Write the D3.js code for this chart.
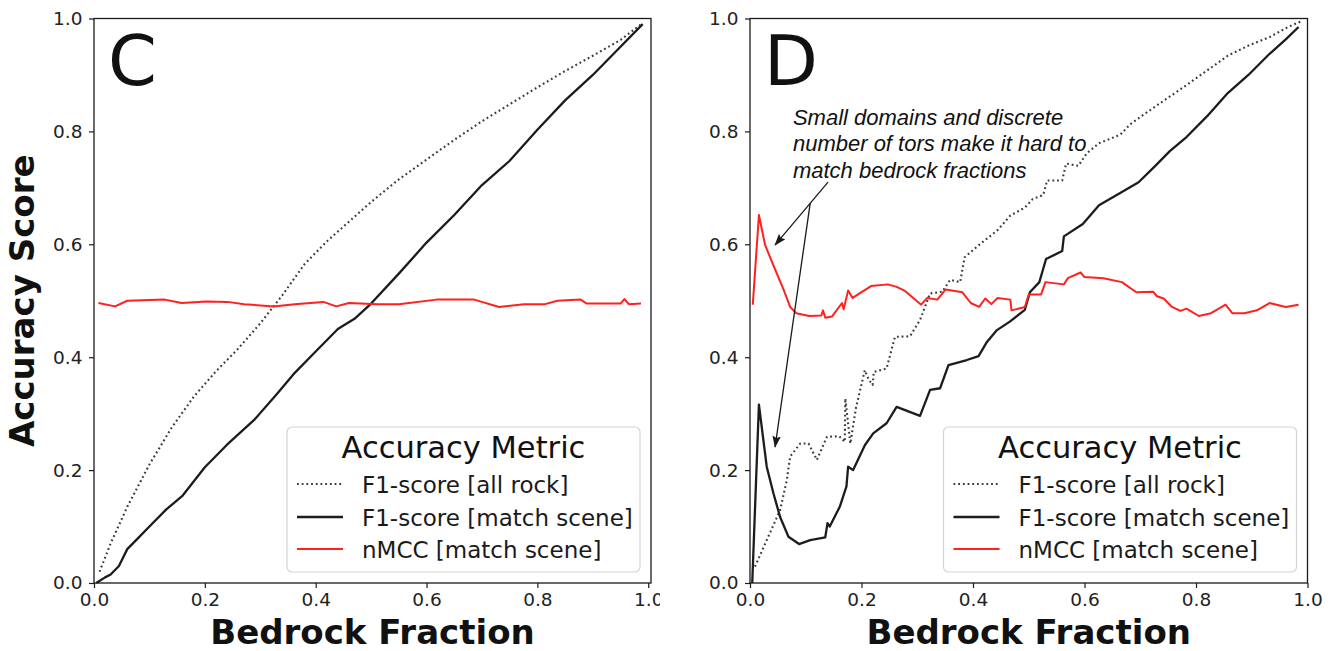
<!DOCTYPE html>
<html>
<head>
<meta charset="utf-8">
<script src="https://cdn.jsdelivr.net/npm/d3@7"></script>
<style>
  body { margin: 0; background: #fff; }
  svg { display: block; }
</style>
</head>
<body>
<svg id="fig" width="1338" height="651"></svg>
<script>
// ---- Panel C: accuracy vs. bedrock fraction (large domains) ----
const cAllRock = [[0.01,0.02],[0.03,0.07],[0.06,0.135],[0.10,0.21],[0.14,0.275],[0.18,0.33],[0.22,0.375],
  [0.26,0.415],[0.30,0.46],[0.34,0.51],[0.38,0.565],[0.42,0.605],[0.46,0.64],[0.50,0.675],[0.55,0.715],
  [0.60,0.75],[0.65,0.785],[0.70,0.818],[0.75,0.848],[0.80,0.878],[0.85,0.907],[0.90,0.934],[0.95,0.962],[0.99,0.992]];
const cScene = [[0.004,0.0],[0.02,0.01],[0.03,0.015],[0.045,0.03],[0.06,0.06],[0.08,0.08],[0.10,0.10],
  [0.13,0.13],[0.16,0.155],[0.20,0.205],[0.24,0.245],[0.29,0.29],[0.33,0.335],[0.36,0.37],[0.40,0.41],
  [0.44,0.45],[0.47,0.468],[0.50,0.495],[0.55,0.548],[0.60,0.603],[0.65,0.652],[0.70,0.705],[0.75,0.748],
  [0.80,0.803],[0.85,0.855],[0.90,0.90],[0.95,0.95],[0.99,0.99]];
const cMcc = [[0.008,0.496],[0.038,0.49],[0.06,0.50],[0.128,0.502],[0.158,0.496],[0.203,0.4985],[0.241,0.498],
  [0.271,0.494],[0.324,0.49],[0.362,0.494],[0.414,0.498],[0.437,0.49],[0.46,0.496],[0.512,0.494],[0.55,0.494],
  [0.618,0.502],[0.686,0.502],[0.731,0.489],[0.776,0.494],[0.814,0.494],[0.836,0.50],[0.878,0.502],
  [0.889,0.495],[0.95,0.495],[0.957,0.503],[0.965,0.494],[0.987,0.495]];

// ---- Panel D: accuracy vs. bedrock fraction (small domains) ----
const dAllRock = [[0.009,0.029],[0.03,0.076],[0.054,0.129],[0.066,0.182],[0.072,0.224],[0.09,0.247],
  [0.105,0.247],[0.12,0.218],[0.138,0.259],[0.16,0.26],[0.17,0.25],[0.171,0.327],[0.18,0.247],[0.19,0.31],
  [0.206,0.377],[0.213,0.36],[0.22,0.351],[0.222,0.374],[0.245,0.38],[0.26,0.436],[0.287,0.437],[0.305,0.466],
  [0.323,0.513],[0.345,0.516],[0.359,0.537],[0.377,0.533],[0.385,0.577],[0.411,0.599],[0.444,0.625],
  [0.467,0.651],[0.493,0.665],[0.507,0.68],[0.526,0.6875],[0.533,0.713],[0.56,0.713],[0.567,0.743],
  [0.589,0.739],[0.604,0.761],[0.626,0.779],[0.664,0.794],[0.682,0.8125],[0.708,0.831],[0.746,0.857],
  [0.783,0.882],[0.82,0.908],[0.857,0.934],[0.894,0.952],[0.932,0.967],[0.965,0.985],[0.991,0.996]];
const dScene = [[0.004,0.0],[0.016,0.316],[0.03,0.206],[0.042,0.159],[0.054,0.117],[0.069,0.082],
  [0.088,0.069],[0.108,0.076],[0.135,0.081],[0.139,0.106],[0.143,0.10],[0.161,0.135],[0.173,0.171],
  [0.176,0.206],[0.185,0.20],[0.206,0.244],[0.221,0.265],[0.245,0.283],[0.263,0.312],[0.305,0.296],
  [0.323,0.342],[0.341,0.345],[0.356,0.386],[0.389,0.395],[0.41,0.402],[0.425,0.427],[0.443,0.448],
  [0.466,0.463],[0.493,0.484],[0.502,0.515],[0.519,0.533],[0.531,0.574],[0.56,0.588],[0.563,0.614],
  [0.597,0.636],[0.626,0.669],[0.664,0.691],[0.697,0.71],[0.727,0.739],[0.753,0.765],[0.783,0.79],
  [0.82,0.827],[0.857,0.868],[0.894,0.90],[0.932,0.9375],[0.961,0.963],[0.984,0.985]];
const dMcc = [[0.005,0.493],[0.016,0.652],[0.027,0.599],[0.042,0.5625],[0.061,0.518],[0.072,0.489],
  [0.083,0.478],[0.106,0.473],[0.128,0.474],[0.131,0.483],[0.135,0.47],[0.147,0.472],[0.165,0.496],
  [0.168,0.485],[0.176,0.518],[0.184,0.505],[0.217,0.526],[0.247,0.529],[0.262,0.525],[0.277,0.518],
  [0.307,0.493],[0.318,0.505],[0.336,0.502],[0.351,0.52],[0.381,0.515],[0.396,0.496],[0.411,0.489],
  [0.422,0.504],[0.433,0.494],[0.444,0.505],[0.467,0.502],[0.469,0.483],[0.493,0.489],[0.50,0.511],
  [0.522,0.511],[0.53,0.533],[0.563,0.529],[0.57,0.54],[0.593,0.55],[0.60,0.542],[0.634,0.54],
  [0.667,0.533],[0.693,0.515],[0.723,0.516],[0.73,0.508],[0.742,0.504],[0.757,0.489],[0.772,0.482],
  [0.783,0.486],[0.805,0.473],[0.827,0.478],[0.853,0.493],[0.865,0.478],[0.887,0.478],[0.909,0.483],
  [0.932,0.496],[0.961,0.489],[0.984,0.493]];

// ---- Shared labels ----
const tickValues = [0, 0.2, 0.4, 0.6, 0.8, 1.0];
const legendTitle = "Accuracy Metric";
const legendLabels = ["F1-score [all rock]", "F1-score [match scene]", "nMCC [match scene]"];
const xTitle = "Bedrock Fraction";
const yTitle = "Accuracy Score";
const annotLines = ["Small domains and discrete", "number of tors make it hard to", "match bedrock fractions"];

// ---- Drawing ----
const W = 1338, H = 651;
const svg = d3.select("#fig");
svg.append("rect").attr("width", W).attr("height", H).attr("fill", "#fff");

const FONT = "'DejaVu Sans', sans-serif";
const INK = "#1a1a1a";
const seriesStyle = [
  { stroke: "#3a3a3a", width: 2.1, dash: "1.8,2.9" },
  { stroke: "#1c1c1c", width: 2.3, dash: null },
  { stroke: "#ff2020", width: 2.0, dash: null }
];

const yTop = 18.5, yBot = 583;

const defs = svg.append("defs");
defs.append("clipPath").attr("id", "clipC")
  .append("rect").attr("x", 0).attr("y", 0).attr("width", 660).attr("height", H);
defs.append("marker").attr("id", "arrowHead")
  .attr("markerUnits", "userSpaceOnUse")
  .attr("viewBox", "0 0 12 10").attr("markerWidth", 12).attr("markerHeight", 10)
  .attr("refX", 11).attr("refY", 5).attr("orient", "auto")
  .append("path").attr("d", "M0,0.8 L12,5 L0,9.2 L2,5 Z").attr("fill", INK);

const panels = [
  { letter: "C", x0: 94, x1: 651, xMax: 1.005, data: [cAllRock, cScene, cMcc], yLabel: true, clip: "url(#clipC)" },
  { letter: "D", x0: 750, x1: 1307.5, xMax: 1.0, data: [dAllRock, dScene, dMcc], yLabel: false, annot: true }
];

panels.forEach(p => {
  const g = svg.append("g");
  if (p.clip) g.attr("clip-path", p.clip);

  const x = d3.scaleLinear().domain([0, p.xMax]).range([p.x0, p.x1]);
  const y = d3.scaleLinear().domain([0, 1]).range([yBot, yTop]);

  // series lines
  const line = d3.line().x(d => x(d[0])).y(d => y(d[1]));
  p.data.forEach((s, i) => {
    const st = seriesStyle[i];
    g.append("path").datum(s)
      .attr("d", line)
      .attr("fill", "none")
      .attr("stroke", st.stroke)
      .attr("stroke-width", st.width)
      .attr("stroke-linejoin", "round")
      .attr("stroke-dasharray", st.dash);
  });

  // axes
  const xAxis = d3.axisBottom(x).tickValues(tickValues).tickFormat(d3.format(".1f"))
    .tickSize(5).tickPadding(5).tickSizeOuter(0);
  const yAxis = d3.axisLeft(y).tickValues(tickValues).tickFormat(d3.format(".1f"))
    .tickSize(5).tickPadding(6.5).tickSizeOuter(0);

  const gx = g.append("g").attr("transform", `translate(0,${yBot})`).call(xAxis);
  const gy = g.append("g").attr("transform", `translate(${p.x0},0)`).call(yAxis);
  [gx, gy].forEach(a => {
    a.select(".domain").remove();
    a.selectAll(".tick line").attr("stroke", INK).attr("stroke-width", 1.2);
    a.selectAll(".tick text").attr("fill", "#222").style("font-family", FONT).style("font-size", "18.5px");
  });

  // frame
  g.append("rect")
    .attr("x", p.x0).attr("y", yTop)
    .attr("width", p.x1 - p.x0).attr("height", yBot - yTop)
    .attr("fill", "none").attr("stroke", INK).attr("stroke-width", 1.3);

  // panel letter
  g.append("text").attr("x", p.x0 + 14).attr("y", 85)
    .style("font-family", FONT).style("font-size", "70px").attr("fill", "#111")
    .text(p.letter);

  // axis titles
  g.append("text").attr("x", (p.x0 + p.x1) / 2).attr("y", 644)
    .attr("text-anchor", "middle")
    .style("font-family", FONT).style("font-size", "34px").style("font-weight", "bold")
    .attr("fill", "#111").text(xTitle);
  if (p.yLabel) {
    g.append("text")
      .attr("transform", `translate(34,${(yTop + yBot) / 2}) rotate(-90)`)
      .attr("text-anchor", "middle")
      .style("font-family", FONT).style("font-size", "34px").style("font-weight", "bold")
      .attr("fill", "#111").text(yTitle);
  }

  // legend
  const bw = 353, bh = 145;
  const bx = p.x1 - 11 - bw, by = 427;
  const lg = g.append("g");
  lg.append("rect").attr("x", bx).attr("y", by).attr("width", bw).attr("height", bh)
    .attr("rx", 5).attr("fill", "#fff").attr("fill-opacity", 0.85)
    .attr("stroke", "#d4d4d4").attr("stroke-width", 1.2);
  lg.append("text").attr("x", bx + bw / 2).attr("y", by + 31)
    .attr("text-anchor", "middle")
    .style("font-family", FONT).style("font-size", "30.5px").attr("fill", "#111")
    .text(legendTitle);
  const rowY = [by + 57, by + 90, by + 122];
  legendLabels.forEach((lab, i) => {
    const st = seriesStyle[i];
    lg.append("line")
      .attr("x1", bx + 10).attr("x2", bx + 56)
      .attr("y1", rowY[i]).attr("y2", rowY[i])
      .attr("stroke", st.stroke).attr("stroke-width", st.width)
      .attr("stroke-dasharray", st.dash);
    lg.append("text").attr("x", bx + 75).attr("y", rowY[i] + 8.5)
      .style("font-family", FONT).style("font-size", "23px").attr("fill", "#1a1a1a")
      .text(lab);
  });

  // annotation with arrows
  if (p.annot) {
    const t = g.append("text")
      .style("font-family", "'Liberation Sans', Arial, sans-serif")
      .style("font-style", "italic").style("font-size", "22px").attr("fill", "#111");
    annotLines.forEach((ln, i) => {
      t.append("tspan").attr("x", x(0.077)).attr("y", y(0.812) + i * 26.5).text(ln);
    });
    const arrows = [
      { from: [0.14, 0.71], to: [0.045, 0.599] },
      { from: [0.108, 0.673], to: [0.045, 0.241] }
    ];
    arrows.forEach(a => {
      g.append("line")
        .attr("x1", x(a.from[0])).attr("y1", y(a.from[1]))
        .attr("x2", x(a.to[0])).attr("y2", y(a.to[1]))
        .attr("stroke", INK).attr("stroke-width", 1.3)
        .attr("marker-end", "url(#arrowHead)");
    });
  }
});
</script>
</body>
</html>
